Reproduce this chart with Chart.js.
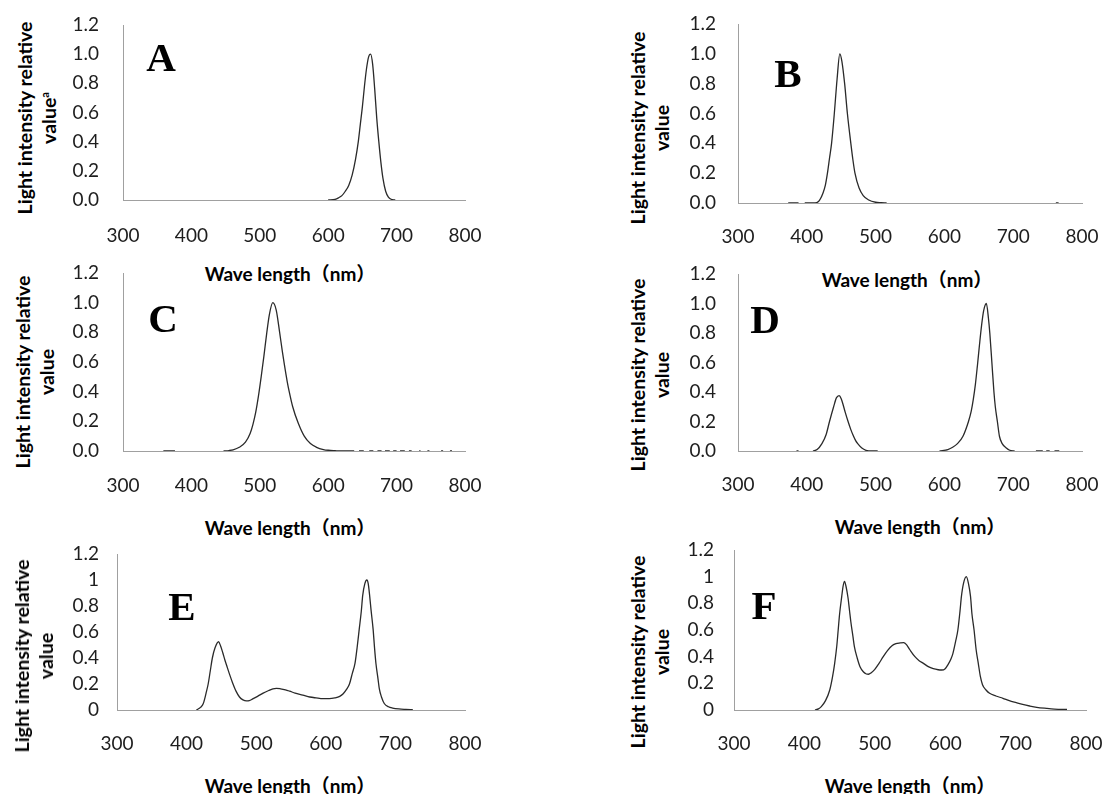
<!DOCTYPE html>
<html>
<head>
<meta charset="utf-8">
<script src="https://cdn.jsdelivr.net/npm/chart.js@4.4.1/dist/chart.umd.min.js"></script>
<style>
  html, body { margin:0; padding:0; background:#fff; overflow:hidden; }
  #wrap { position:relative; width:1104px; height:794px; overflow:hidden; background:#fff; }
  canvas { position:absolute; }
  .ytitle { position:absolute; font-family:Lato, "Noto Sans", sans-serif; font-weight:700; font-size:19.5px; line-height:24px;
            text-align:center; white-space:nowrap; color:#000; transform:translate(-50%,-50%) rotate(-90deg); }
  .ytitle sup { font-size:11px; line-height:0; vertical-align:7px; }
  .xtitle { position:absolute; font-family:Lato, "Noto Sans CJK SC", sans-serif; font-weight:700; font-size:19px; line-height:1;
            white-space:nowrap; color:#000; transform:translate(-50%,-50%); }
  .letter { position:absolute; font-family:"Liberation Serif", "DejaVu Serif", serif; font-weight:700; font-size:41px; line-height:1;
            color:#000; transform:translate(-50%,-50%); }
</style>
</head>
<body>
<div id="wrap"></div>
<script>
// ---------- data ----------
const xTicks = [300, 400, 500, 600, 700, 800];
const yTicksAD = ["0.0", "0.2", "0.4", "0.6", "0.8", "1.0", "1.2"];
const yTicksEF = ["0", "0.2", "0.4", "0.6", "0.8", "1", "1.2"];
const panelLetters = ["A", "B", "C", "D", "E", "F"];

// A: red LED
const aWl  = [600, 610, 615, 620, 625, 630, 635, 640, 644, 647, 650, 653, 656, 659, 662, 665, 668, 671, 674, 677, 680, 684, 688, 692, 698];
const aVal = [0, 0.005, 0.015, 0.03, 0.06, 0.1, 0.17, 0.28, 0.4, 0.52, 0.64, 0.78, 0.9, 0.98, 1.0, 0.93, 0.76, 0.56, 0.4, 0.26, 0.15, 0.06, 0.02, 0.005, 0];

// B: blue LED
const bWl  = [373, 380, 388, 392, 397, 405, 412, 417, 420, 423, 427, 430, 433, 436, 440, 444, 448, 451, 455, 459, 464, 467, 470, 476, 482, 490, 500, 508, 516, 600, 762, 766];
const bVal = [0, 0, 0, null, 0, 0, 0, 0.01, 0.03, 0.06, 0.12, 0.2, 0.3, 0.4, 0.6, 0.83, 1.0, 0.95, 0.8, 0.6, 0.4, 0.29, 0.2, 0.1, 0.05, 0.02, 0.005, 0.002, 0, null, 0, 0];

// C: green LED
const cWl  = [359, 376, 400, 447, 455, 461, 470, 479, 486, 490, 494, 498, 502, 506, 510, 514, 519, 524, 529, 533, 536, 540, 543, 548, 556, 565, 574, 583, 593, 600, 610, 620, 638, 641,
              645, 652, 656, 660, 666, 669, 672, 678, 681, 683, 690, 693, 695, 700, 703, 705, 712, 715, 718, 722, 728, 733, 735, 740, 745, 748, 755, 765, 768, 773, 778, 781];
const cVal = [0, 0, null, 0, 0.003, 0.008, 0.025, 0.06, 0.12, 0.18, 0.26, 0.37, 0.5, 0.64, 0.79, 0.92, 1.0, 0.95, 0.8, 0.67, 0.58, 0.47, 0.4, 0.3, 0.19, 0.1, 0.05, 0.025, 0.01, 0.005, 0.002, 0, 0, null,
              0, 0, null, 0, 0, null, 0, 0, null, 0, 0, null, 0, 0, null, 0, 0, null, 0, 0, null, 0, 0, null, 0, 0, null, 0, 0, null, 0, 0];

// D: blue + red LED
const dWl  = [385, 388, 398, 409, 415, 422, 428, 433, 439, 443, 447, 450, 453, 456, 460, 464, 467, 471, 474, 480, 486, 495, 503, 550,
              593, 605, 612, 619, 627, 635, 639, 642, 645, 648, 651, 654, 657, 661, 664, 666, 669, 672, 674, 677, 680, 684, 690, 695, 702, 720,
              733, 743, 745, 748, 753, 756, 760, 767];
const dVal = [0, 0, null, 0, 0.01, 0.05, 0.11, 0.2, 0.3, 0.36, 0.376, 0.355, 0.31, 0.26, 0.2, 0.145, 0.11, 0.07, 0.05, 0.02, 0.005, 0, 0, null,
              0, 0.01, 0.025, 0.05, 0.1, 0.2, 0.27, 0.35, 0.45, 0.58, 0.72, 0.85, 0.95, 1.0, 0.9, 0.8, 0.6, 0.4, 0.3, 0.2, 0.1, 0.05, 0.02, 0.005, 0, null,
              0, 0, null, 0, 0, null, 0, 0];

// E: blue + green + red
const eWl  = [414, 420, 424, 428, 431, 434, 437, 441, 446, 449, 452, 455, 458, 462, 466, 471, 476, 481, 486, 490, 495, 502, 510, 518, 524, 529, 535, 542, 548, 556, 567, 577, 586, 596, 605,
              613, 620, 625, 630, 634, 638, 642, 645, 648, 651, 653, 656, 659, 661, 663, 665, 668, 670, 672, 675, 677, 680, 684, 690, 696, 705, 715, 725];
const eVal = [0, 0.02, 0.05, 0.13, 0.2, 0.3, 0.4, 0.48, 0.525, 0.49, 0.44, 0.385, 0.335, 0.27, 0.21, 0.145, 0.1, 0.078, 0.07, 0.072, 0.085, 0.105, 0.13, 0.15, 0.163, 0.167, 0.163, 0.155, 0.145, 0.13, 0.115, 0.1, 0.093, 0.087, 0.087,
              0.093, 0.105, 0.125, 0.16, 0.2, 0.28, 0.36, 0.48, 0.62, 0.76, 0.88, 0.97, 1.0, 0.97, 0.88, 0.77, 0.62, 0.48, 0.36, 0.24, 0.16, 0.1, 0.05, 0.025, 0.015, 0.008, 0.005, 0.003];

// F: white-like spectrum
const fWl  = [415, 420, 424, 430, 436, 440, 443, 446, 448, 450, 453, 455, 457, 459, 462, 464, 466, 469, 471, 475, 479, 484, 488, 491, 495, 500, 506, 512, 518, 524, 530, 536, 541, 545, 550, 557,
              563, 569, 576, 583, 590, 595, 600, 604, 608, 611, 615, 618, 621, 623, 626, 630, 633, 636, 638, 641, 644, 647, 650, 653, 658, 663, 672, 682, 691, 701, 710, 720, 730, 744, 755, 765, 773];
const fVal = [0, 0.008, 0.025, 0.07, 0.15, 0.25, 0.35, 0.48, 0.6, 0.72, 0.85, 0.93, 0.965, 0.93, 0.84, 0.75, 0.66, 0.55, 0.475, 0.39, 0.325, 0.285, 0.27, 0.268, 0.28, 0.305, 0.35, 0.4, 0.445, 0.48, 0.497, 0.503, 0.506, 0.49, 0.45, 0.4,
              0.37, 0.35, 0.325, 0.31, 0.302, 0.3, 0.31, 0.34, 0.38, 0.425, 0.52, 0.6, 0.74, 0.85, 0.95, 1.0, 0.95, 0.85, 0.72, 0.6, 0.45, 0.35, 0.25, 0.19, 0.15, 0.125, 0.105, 0.088, 0.07, 0.055, 0.042, 0.03, 0.02, 0.012, 0.007, 0.005, 0.005];

// ---------- layout (page geometry of each panel) ----------
const panels = [
  { wl:aWl, val:aVal, labels:yTicksAD, L:123, T:25,  R:465,  B:200, yPad:24, xPad:24, yt:[37,118],  xt:[290,273],   lt:[161,57]  , sup:true },
  { wl:bWl, val:bVal, labels:yTicksAD, L:738, T:24,  R:1082, B:203, yPad:22, xPad:22, yt:[650,128], xt:[907,279],   lt:[788,73]  },
  { wl:cWl, val:cVal, labels:yTicksAD, L:123, T:273, R:465,  B:451, yPad:24, xPad:23, yt:[35,372],  xt:[290,527],   lt:[163,318] },
  { wl:dWl, val:dVal, labels:yTicksAD, L:738, T:274, R:1082, B:451, yPad:22, xPad:22, yt:[650,375], xt:[920,526],   lt:[765,319] },
  { wl:eWl, val:eVal, labels:yTicksEF, L:117, T:554, R:465,  B:710, yPad:18, xPad:22, yt:[34,656],  xt:[290,785],   lt:[182,606] },
  { wl:fWl, val:fVal, labels:yTicksEF, L:734, T:550, R:1086, B:710, yPad:20, xPad:22, yt:[650,652], xt:[910,785],   lt:[764,605] }
];

const wrap = document.getElementById('wrap');
const tickFont = { family: 'Lato, "Noto Sans", sans-serif', size: 19 };
const tickColor = '#1e1e1e';
const axisColor = '#a0a0a0';
const Y_W = 60, X_H = 45, PAD_T = 15, PAD_R = 18;

function zeroPad(s) { s.paddingLeft = 0; s.paddingRight = 0; s.paddingTop = 0; s.paddingBottom = 0; }

panels.forEach((p, i) => {
  const cx = p.L - Y_W, cy = p.T - PAD_T;
  const cw = p.R - cx + PAD_R, ch = p.B + X_H - cy;
  const cv = document.createElement('canvas');
  cv.width = cw; cv.height = ch;
  cv.style.left = cx + 'px'; cv.style.top = cy + 'px';
  cv.style.width = cw + 'px'; cv.style.height = ch + 'px';
  wrap.appendChild(cv);

  const pts = p.wl.map((x, k) => ({ x: x, y: p.val[k] }));
  const labs = p.labels;
  new Chart(cv, {
    type: 'line',
    data: { datasets: [{ data: pts, borderColor: '#2a2a2a', borderWidth: 1.3, pointRadius: 0,
                         fill: false, cubicInterpolationMode: 'monotone', spanGaps: false }] },
    options: {
      responsive: false, animation: false, devicePixelRatio: 1,
      layout: { padding: { top: PAD_T, right: PAD_R, bottom: 0, left: 0 } },
      plugins: { legend: { display: false }, tooltip: { enabled: false } },
      scales: {
        x: { type: 'linear', min: xTicks[0], max: xTicks[xTicks.length - 1],
             afterBuildTicks: s => { s.ticks = xTicks.map(v => ({ value: v })); },
             ticks: { padding: p.xPad, font: tickFont, color: tickColor, maxRotation: 0, autoSkip: false,
                      callback: v => String(v) },
             grid: { display: false, drawTicks: false },
             border: { display: true, color: axisColor, width: 1 },
             afterFit: s => { s.height = X_H; zeroPad(s); } },
        y: { type: 'linear', min: 0, max: 1.2,
             afterBuildTicks: s => { s.ticks = labs.map(t => ({ value: parseFloat(t) })); },
             ticks: { padding: p.yPad, font: tickFont, color: tickColor,
                      callback: (v, k) => labs[k] },
             grid: { display: false, drawTicks: false },
             border: { display: true, color: axisColor, width: 1 },
             afterFit: s => { s.width = Y_W; zeroPad(s); } }
      }
    }
  });

  const yt = document.createElement('div');
  yt.className = 'ytitle';
  yt.style.left = p.yt[0] + 'px'; yt.style.top = p.yt[1] + 'px';
  yt.innerHTML = 'Light intensity relative<br>value' + (p.sup ? '<sup>a</sup>' : '');
  wrap.appendChild(yt);

  const xt = document.createElement('div');
  xt.className = 'xtitle';
  xt.style.left = p.xt[0] + 'px'; xt.style.top = p.xt[1] + 'px';
  xt.textContent = 'Wave length（nm）';
  wrap.appendChild(xt);

  const lt = document.createElement('div');
  lt.className = 'letter';
  lt.style.left = p.lt[0] + 'px'; lt.style.top = p.lt[1] + 'px';
  lt.textContent = panelLetters[i];
  wrap.appendChild(lt);
});
</script>
</body>
</html>
